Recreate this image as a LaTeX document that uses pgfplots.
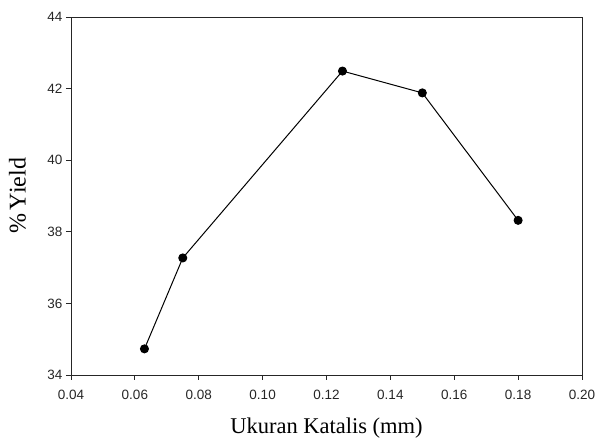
\documentclass[border=0pt]{standalone}
\usepackage{fontspec}
\setmainfont{Liberation Serif}
\newfontfamily\arial{Liberation Sans}
\usepackage{pgfplots}
\pgfplotsset{compat=1.18}
\begin{document}
\begin{tikzpicture}
\path[use as bounding box] (-71pt,-63pt) rectangle (524pt,375pt);
\begin{axis}[
  at={(0,0)}, anchor=south west,
  scale only axis, width=511pt, height=358pt,
  xmin=0.04, xmax=0.20, ymin=34, ymax=44,
  xtick={0.04,0.06,...,0.201}, ytick={34,36,...,44},
  xtick pos=bottom, ytick pos=left,
  tick align=outside, major tick length=5pt,
  axis line style={line width=0.9pt, black!85},
  tick style={line width=0.9pt, black!85},
  /pgf/number format/assume math mode=true,
  xticklabel style={/pgf/number format/fixed, /pgf/number format/fixed zerofill, /pgf/number format/precision=2},
  scaled x ticks=false,
  tick label style={font=\arial\fontsize{13.5}{15}\selectfont, text=black!85},
  xticklabel style={yshift=-7pt},
  yticklabel style={xshift=0pt},
  every axis x label/.style={at={(axis description cs:0.5,-0.148)}, anchor=center, font=\fontsize{22.5}{26}\selectfont},
  every axis y label/.style={at={(axis description cs:-0.105,0.5)}, rotate=90, anchor=center, font=\fontsize{24}{28}\selectfont},
  xlabel={Ukuran Katalis (mm)},
  ylabel={\%\,Yield},
]
\addplot[black, line width=1pt, mark=*, mark size=4pt, mark options={fill=black}] coordinates {
(0.063,34.73) (0.075,37.27) (0.125,42.49) (0.150,41.88) (0.180,38.32)
};
\end{axis}
\end{tikzpicture}
\end{document}
